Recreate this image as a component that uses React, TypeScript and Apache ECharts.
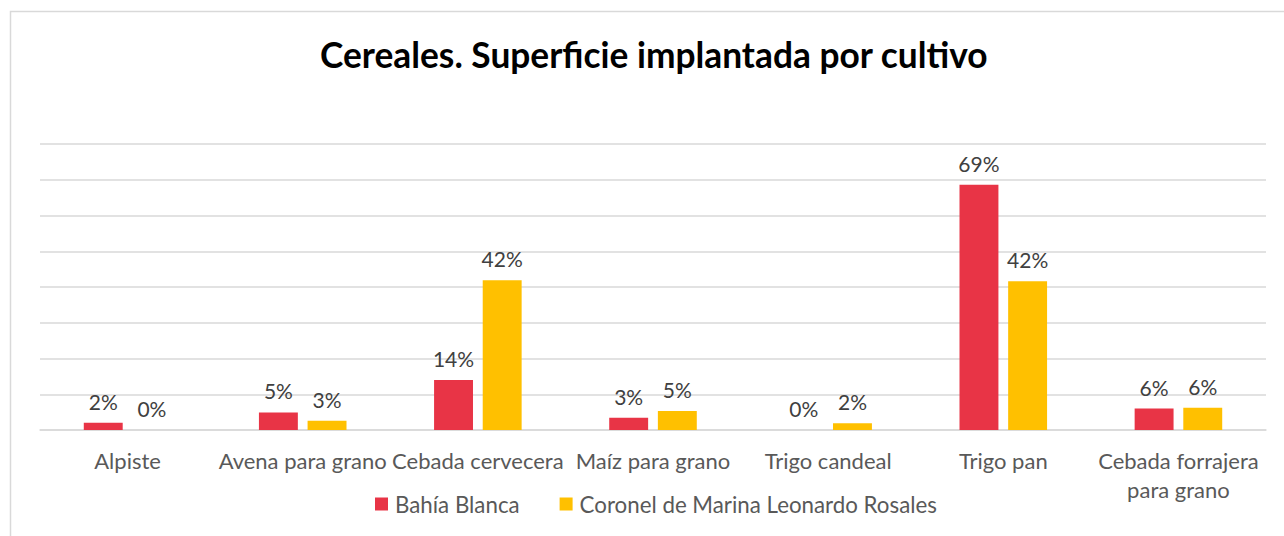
import React, { useEffect, useRef } from "react";
import * as echarts from "echarts";

const categories = [
  "Alpiste",
  "Avena para grano",
  "Cebada cervecera",
  "Maíz para grano",
  "Trigo candeal",
  "Trigo pan",
  "Cebada forrajera para grano",
];
const bahiaBlanca = [2.0, 4.9, 14.0, 3.4, 0, 68.6, 6.0];
const coronelRosales = [0, 2.6, 41.9, 5.3, 1.9, 41.6, 6.2];
const seriesNames = ["Bahía Blanca", "Coronel de Marina Leonardo Rosales"];
const titleText = "Cereales. Superficie implantada por cultivo";

const FONT = "Lato, 'Noto Sans', sans-serif";

export default function App() {
  const ref = useRef<HTMLDivElement>(null);
  useEffect(() => {
    if (!ref.current) return;
    const chart = echarts.init(ref.current, null, { renderer: "svg" });
    const label = {
      show: true,
      position: "top",
      distance: 11,
      color: "#404040",
      fontSize: 21,
      fontFamily: FONT,
      formatter: (p: any) => Math.round(p.value) + "%",
    };
    chart.setOption({
      animation: false,
      backgroundColor: "#fff",
      title: {
        text: titleText,
        left: 315,
        top: 32,
        textStyle: { fontFamily: FONT, fontWeight: "bold", fontSize: 35.3, color: "#000" },
      },
      graphic: [
        {
          type: "rect",
          shape: { x: 10.5, y: 11.5, width: 1290, height: 600 },
          style: { fill: "none", stroke: "#D9D9D9", lineWidth: 1.5 },
          silent: true,
          z: -1,
        },
      ],
      legend: {
        data: seriesNames,
        top: 488,
        left: 370,
        itemWidth: 13,
        itemHeight: 13,
        itemGap: 40,
        icon: "rect",
        textStyle: { fontFamily: FONT, fontSize: 22.3, color: "#595959", padding: [0, 0, 0, 2] },
      },
      grid: { left: 40, right: 18, top: 144, bottom: 106, containLabel: false },
      xAxis: {
        type: "category",
        data: categories,
        axisLine: { lineStyle: { color: "#D9D9D9", width: 1.5 } },
        axisTick: { show: false },
        axisLabel: {
          interval: 0,
          margin: 16,
          color: "#595959",
          fontSize: 22,
          fontFamily: FONT,
          lineHeight: 29,
          formatter: (v: string) =>
            v === "Cebada forrajera para grano" ? "Cebada forrajera\npara grano" : v,
        },
      },
      yAxis: {
        type: "value",
        min: 0,
        max: 80,
        interval: 10,
        axisLabel: { show: false },
        axisLine: { show: false },
        axisTick: { show: false },
        splitLine: { lineStyle: { color: "#D9D9D9", width: 1.5 } },
      },
      series: [
        {
          name: seriesNames[0],
          type: "bar",
          data: bahiaBlanca,
          itemStyle: { color: "#E83446" },
          barGap: "25%",
          barCategoryGap: "50%",
          label,
        },
        {
          name: seriesNames[1],
          type: "bar",
          data: coronelRosales,
          itemStyle: { color: "#FFC000" },
          barGap: "25%",
          barCategoryGap: "50%",
          label,
        },
      ],
    });
    return () => chart.dispose();
  }, []);
  return (
    <div
      ref={ref}
      style={{ position: "fixed", left: 0, top: 0, width: 1284, height: 536 }}
    />
  );
}
